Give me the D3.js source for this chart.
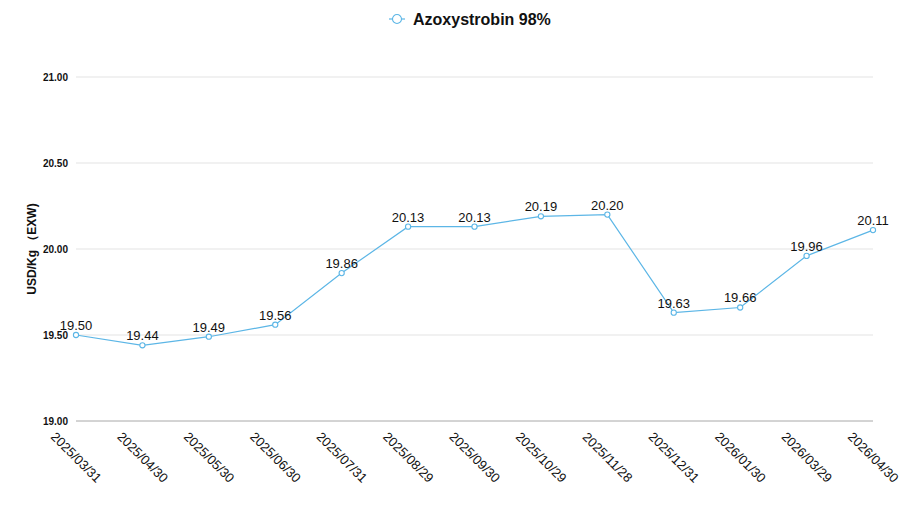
<!DOCTYPE html>
<html>
<head>
<meta charset="utf-8">
<script src="https://cdn.jsdelivr.net/npm/d3@7"></script>
<style>
  body { margin: 0; background: #fff; }
  svg { font-family: "Helvetica Neue", Arial, "Liberation Sans", sans-serif; }
</style>
</head>
<body>
<div id="Diagram"></div>
<script>
// chart data
var dates = ["2025/03/31", "2025/04/30", "2025/05/30", "2025/06/30", "2025/07/31", "2025/08/29",
             "2025/09/30", "2025/10/29", "2025/11/28", "2025/12/31", "2026/01/30", "2026/03/29", "2026/04/30"];
var prices = [19.50, 19.44, 19.49, 19.56, 19.86, 20.13, 20.13, 20.19, 20.20, 19.63, 19.66, 19.96, 20.11];
var yTicks = [19.0, 19.5, 20.0, 20.5, 21.0];
var seriesName = "Azoxystrobin 98%";
var yTitle = "USD/Kg （EXW)";

var width = 924, height = 514;
var margin = {"left": 76, "right": 51, "top": 77, "bottom": 93};
var lineColor = "#5cb6e6";

var svg = d3.select("#Diagram")
  .append("svg")
    .attr("width", width)
    .attr("height", height);

var x = d3.scalePoint()
    .domain(dates)
    .range([margin.left, width - margin.right])
    .padding(0);

var y = d3.scaleLinear()
    .domain([19, 21])
    .range([height - margin.bottom, margin.top]);

// grid lines
svg.append("g")
  .selectAll("line")
  .data(yTicks)
  .enter()
  .append("line")
    .attr("x1", margin.left)
    .attr("x2", width - margin.right)
    .attr("y1", function(d) { return y(d); })
    .attr("y2", function(d) { return y(d); })
    .attr("stroke", function(d) { return d === 19 ? "#a8a8a8" : "#e3e3e3"; })
    .attr("stroke-width", 1);

// Y axis labels
var yAxis = svg.append("g")
    .attr("transform", "translate(" + (margin.left - 8) + ",0)")
    .call(d3.axisLeft(y).tickValues(yTicks).tickFormat(d3.format(".2f")).tickSize(0));
yAxis.select(".domain").remove();
yAxis.selectAll("text")
    .attr("x", 0)
    .style("font-size", "10px")
    .style("font-weight", "bold")
    .attr("fill", "#111");

// Y title
svg.append("text")
    .attr("transform", "translate(36," + y(20) + ") rotate(-90)")
    .attr("text-anchor", "middle")
    .style("font-size", "12px")
    .style("font-weight", "bold")
    .attr("fill", "#111")
    .text(yTitle);

// X axis labels
var xAxis = svg.append("g")
    .attr("transform", "translate(0," + y(19) + ")")
    .call(d3.axisBottom(x).tickSize(0));
xAxis.select(".domain").remove();
xAxis.selectAll("text")
    .attr("y", 0)
    .attr("dy", 0)
    .attr("transform", "translate(-1,37) rotate(45)")
    .attr("text-anchor", "middle")
    .attr("dominant-baseline", "middle")
    .style("font-size", "13px")
    .attr("fill", "#111");

// line
var line = d3.line()
    .x(function(d, i) { return x(dates[i]); })
    .y(function(d) { return y(d); });

svg.append("path")
    .datum(prices)
    .attr("fill", "none")
    .attr("stroke", lineColor)
    .attr("stroke-width", 1.2)
    .attr("d", line);

svg.append("g")
  .selectAll("circle")
  .data(prices)
  .enter()
  .append("circle")
    .attr("cx", function(d, i) { return x(dates[i]); })
    .attr("cy", function(d) { return y(d); })
    .attr("r", 2.6)
    .attr("fill", "#fff")
    .attr("stroke", lineColor)
    .attr("stroke-width", 1.1);

// value labels
svg.append("g")
  .selectAll("text")
  .data(prices)
  .enter()
  .append("text")
    .attr("x", function(d, i) { return x(dates[i]); })
    .attr("y", function(d) { return y(d) - 5; })
    .attr("text-anchor", "middle")
    .style("font-size", "13px")
    .attr("fill", "#111")
    .text(function(d) { return d.toFixed(2); });

// legend
var legend = svg.append("g").attr("transform", "translate(397,19)");
legend.append("line")
    .attr("x1", -8).attr("x2", 8)
    .attr("stroke", lineColor).attr("stroke-width", 1.2);
legend.append("circle")
    .attr("r", 4.5)
    .attr("fill", "#fff")
    .attr("stroke", lineColor)
    .attr("stroke-width", 1.1);
legend.append("text")
    .attr("x", 16)
    .attr("dy", "0.36em")
    .style("font-size", "16px")
    .style("font-weight", "bold")
    .attr("fill", "#111")
    .text(seriesName);
</script>
</body>
</html>
